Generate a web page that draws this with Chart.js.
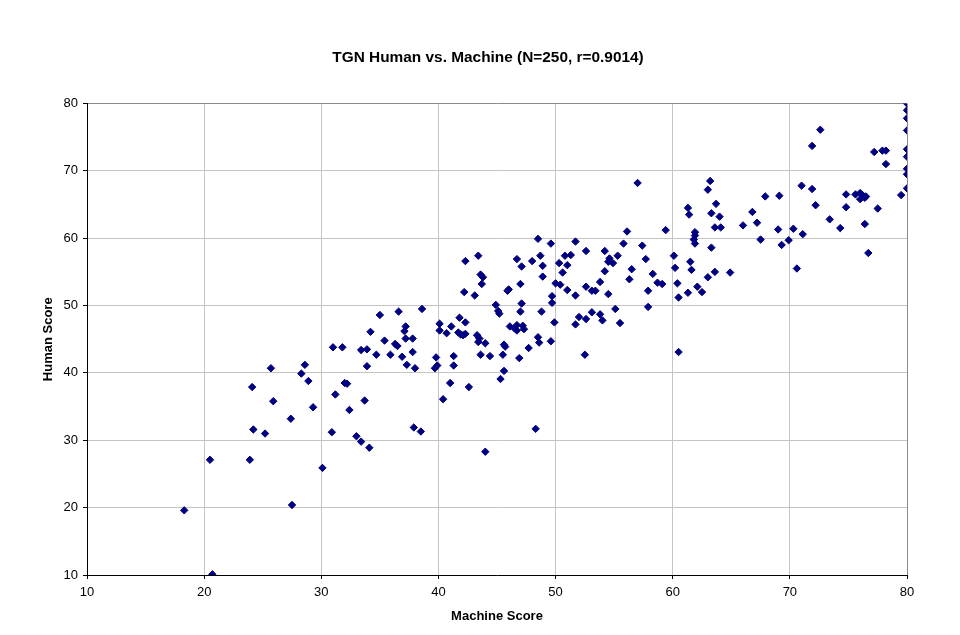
<!DOCTYPE html>
<html>
<head>
<meta charset="utf-8">
<title>TGN Human vs. Machine</title>
<script src="https://cdn.jsdelivr.net/npm/chart.js@4/dist/chart.umd.min.js"></script>
<style>
  html, body { margin: 0; padding: 0; background: #ffffff; }
  canvas { display: block; }
</style>
</head>
<body>
<canvas id="chart" width="960" height="635"></canvas>
<script>
// Machine score / human score pairs, one entry per rated item
const machineScores = [
  18.3, 20.5, 20.7, 23.9, 24.1, 24.2, 25.2, 25.7, 25.9, 27.4, 27.5, 28.3, 28.6, 28.9, 29.3,
  30.1, 30.9, 31.0, 31.2, 31.8, 32.0, 32.2, 32.4, 33.0, 33.4, 33.4, 33.7, 33.9, 33.9, 34.1, 34.2, 34.7, 35.0, 35.4, 35.9,
  36.3, 36.5, 36.6, 36.9, 37.2, 37.1, 37.2, 37.3, 37.8, 37.8, 38.0, 37.9, 38.5, 38.6, 39.8, 39.9, 39.7,
  40.1, 40.1, 40.4, 40.7, 41.1, 41.0, 41.3, 41.3, 41.8, 42.3, 41.7, 41.9, 42.1, 42.3, 42.6, 42.2, 42.3, 43.1, 43.4, 43.6,
  43.8, 43.7, 43.3, 43.5, 43.4, 44.0, 43.6, 44.4, 44.0, 44.9, 45.1, 45.2, 45.5, 45.6, 45.7, 45.6, 45.3, 45.9, 46.0, 46.7,
  47.1, 47.0, 47.1, 47.0, 46.1, 46.5, 46.7, 47.2, 47.3, 46.7, 46.9, 47.7, 48.0, 48.5, 48.7, 48.9, 48.9, 48.8, 48.5, 48.6,
  48.3, 49.6, 49.7, 49.7, 49.9, 49.6, 50.0,
  50.3, 50.4, 50.6, 50.8, 51.0, 51.0, 51.3, 51.7, 51.7, 51.7, 52.0, 52.6, 52.6, 52.6, 52.5, 53.1, 53.4, 53.1, 53.8, 53.8,
  54.0, 54.2, 54.2, 54.5, 54.5, 54.6, 54.9, 55.3, 55.1, 55.5, 55.8, 56.1, 56.5, 56.3, 57.0, 57.4, 57.7, 57.9, 57.9, 58.3,
  58.7, 59.1, 59.4,
  60.1, 60.2, 60.4, 60.5, 60.5, 61.3, 61.4, 61.3, 61.5, 61.6, 61.9, 61.9, 61.8, 61.9, 62.1, 62.5, 63.0, 63.0, 63.2, 63.3,
  63.6, 63.7, 63.3, 64.0, 63.6, 64.1, 64.9, 66.0, 66.8, 67.2, 67.5, 67.9, 69.0, 69.1, 69.3, 69.9,
  70.3, 70.6, 71.0, 71.1, 71.9, 71.9, 72.2, 72.6, 73.4, 74.3, 74.8, 74.8, 75.6, 76.0, 76.2, 76.5, 76.0, 76.4, 76.4, 76.7,
  77.2, 77.5, 77.9, 78.2, 78.2, 79.5, 80, 80, 80, 80, 80, 80, 80, 80, 80
];

const humanScores = [
  19.6, 27.1, 10.1, 27.1, 37.9, 31.6, 31.0, 40.7, 35.8, 33.2, 20.4, 39.9, 41.2, 38.8, 34.9,
  25.9, 31.2, 43.8, 36.8, 43.8, 38.5, 38.4, 34.5, 30.6, 29.8, 43.4, 35.9, 41.0, 43.5, 28.9, 46.1, 42.7, 48.6, 44.8, 42.7,
  44.3, 44.0, 49.1, 42.4, 46.9, 46.2, 45.1, 41.2, 45.1, 43.1, 40.7, 31.9, 31.3, 49.5, 42.3, 41.1, 40.7,
  47.3, 46.3, 36.1, 45.9, 46.9, 38.5, 42.5, 41.1, 48.2, 47.5, 46.0, 45.7, 45.6, 45.8, 37.9, 52.0, 56.6, 51.5, 57.4, 54.6,
  54.2, 53.2, 45.6, 45.1, 44.6, 44.4, 42.7, 42.5, 28.3, 50.1, 49.2, 48.8, 42.7, 44.2, 43.9, 40.3, 39.1, 52.2, 52.4, 56.9,
  55.8, 53.2, 50.3, 49.1, 46.9, 46.6, 47.1, 47.0, 46.5, 46.3, 42.2, 43.7, 56.6, 59.9, 57.4, 55.9, 54.3, 49.1, 45.3, 44.5,
  31.7, 59.2, 51.4, 50.4, 47.5, 44.7, 53.3,
  56.3, 53.1, 54.9, 57.4, 56.0, 52.3, 57.5, 59.5, 51.5, 47.2, 48.3, 58.1, 52.8, 48.0, 42.7, 52.2, 52.2, 49.0, 53.5, 48.7,
  47.8, 58.1, 55.1, 51.7, 56.5, 57.0, 56.3, 57.4, 49.5, 47.4, 59.2, 61.0, 55.4, 53.9, 68.2, 58.9, 56.9, 52.2, 49.8, 54.7,
  53.4, 53.2, 61.2,
  57.4, 55.6, 53.3, 51.2, 43.1, 64.5, 63.5, 51.9, 56.5, 55.3, 60.9, 60.4, 59.8, 59.2, 52.8, 52.0, 54.2, 67.2, 68.5, 58.6,
  55.0, 65.1, 63.7, 63.2, 61.6, 61.6, 54.9, 61.9, 63.9, 62.3, 59.8, 66.2, 61.3, 66.3, 59.0, 59.7,
  61.4, 55.5, 67.8, 60.6, 73.7, 67.3, 64.9, 76.1, 62.8, 61.5, 66.5, 64.6, 66.5, 66.7, 66.4, 66.2, 65.8, 66.0, 62.1, 57.8,
  72.8, 64.4, 73.0, 73.0, 71.0, 66.4, 80, 79.0, 77.8, 76.0, 73.2, 72.1, 70.3, 69.5, 67.4
];

const axisMin = 10;
const axisMax = 80;
const axisStep = 10;

const chartTitle = 'TGN Human vs. Machine (N=250, r=0.9014)';
const xAxisTitle = 'Machine Score';
const yAxisTitle = 'Human Score';

const points = machineScores.map((m, i) => ({ x: m, y: humanScores[i] }));

const FONT = 'Arial, "Liberation Sans", Helvetica, sans-serif';
const MARK = '#000080';

// nudge the title block so the heading sits where the layout wants it
const titleOffset = {
  id: 'titleOffset',
  afterLayout(chart) {
    const t = chart.titleBlock;
    if (!t) return;
    const shift = 488 - (t.left + t.right) / 2;
    t.left += shift;
    t.right += shift;
  }
};

const gridColor = (ctx) => (ctx.tick && ctx.tick.value === axisMax) ? '#8a8a8a' : '#c4c4c4';

new Chart(document.getElementById('chart'), {
  type: 'scatter',
  data: {
    datasets: [{
      data: points,
      pointStyle: 'rectRot',
      pointRadius: 3.7,
      pointHoverRadius: 3.7,
      pointBackgroundColor: MARK,
      pointBorderColor: MARK,
      pointBorderWidth: 1,
      showLine: false
    }]
  },
  options: {
    responsive: false,
    animation: false,
    events: [],
    layout: { padding: { left: 0, right: 53, top: 0, bottom: 0 } },
    plugins: {
      legend: { display: false },
      tooltip: { enabled: false },
      title: {
        display: true,
        text: chartTitle,
        color: '#000',
        font: { family: FONT, size: 15.4, weight: 'bold' },
        padding: { top: 49, bottom: 36 }
      }
    },
    scales: {
      x: {
        type: 'linear',
        min: axisMin,
        max: axisMax,
        ticks: { stepSize: axisStep, color: '#000', font: { family: FONT, size: 13 }, padding: 6, maxRotation: 0 },
        grid: { color: gridColor, lineWidth: 1, tickColor: '#000', tickLength: 4 },
        border: { color: '#000', width: 1 },
        title: {
          display: true,
          text: xAxisTitle,
          color: '#000',
          font: { family: FONT, size: 13, weight: 'bold' },
          padding: { top: 0, bottom: 11 }
        },
        afterFit(s) { s.height = 60; s.paddingLeft = 0; s.paddingRight = 0; }
      },
      y: {
        type: 'linear',
        min: axisMin,
        max: axisMax,
        ticks: { stepSize: axisStep, color: '#000', font: { family: FONT, size: 13 }, padding: 5 },
        grid: { color: gridColor, lineWidth: 1, tickColor: '#000', tickLength: 4 },
        border: { color: '#000', width: 1 },
        title: {
          display: true,
          text: yAxisTitle,
          color: '#000',
          font: { family: FONT, size: 13, weight: 'bold' },
          padding: { top: 41, bottom: 0 }
        },
        afterFit(s) { s.width = 87; s.paddingTop = 0; s.paddingBottom = 0; }
      }
    }
  },
  plugins: [titleOffset]
});
</script>
</body>
</html>
